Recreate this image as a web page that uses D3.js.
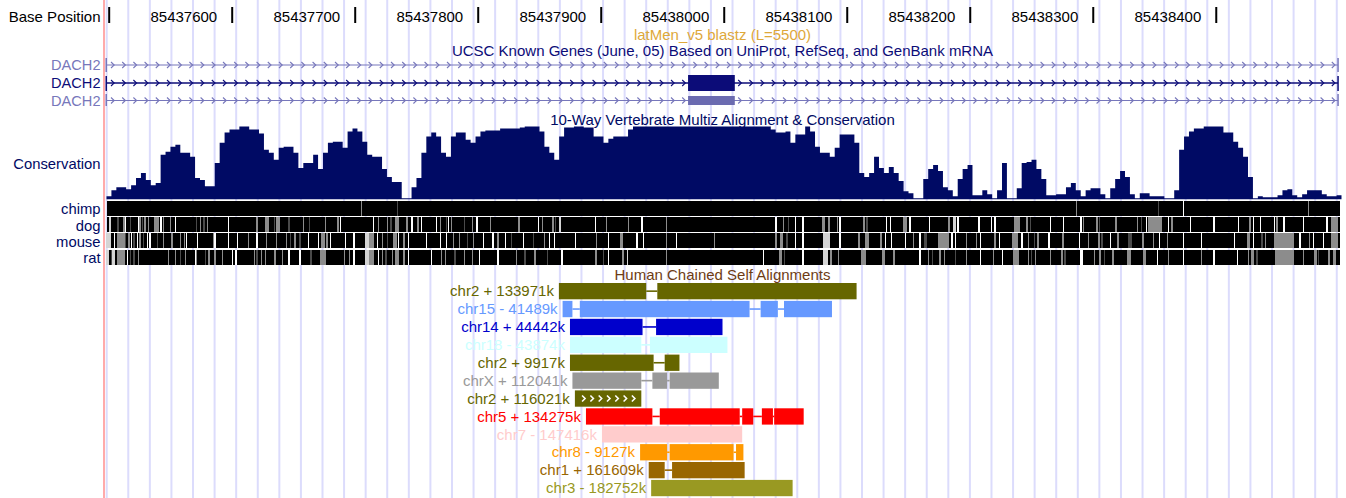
<!DOCTYPE html>
<html><head><meta charset="utf-8">
<script src="https://cdn.jsdelivr.net/npm/d3@7"></script>
<style>
html,body{margin:0;padding:0;background:#fff;overflow:hidden}
svg{display:block;font-family:"Liberation Sans",Arial,Helvetica,sans-serif}
</style></head><body>
<svg id="chart" width="1346" height="498"></svg>
<script>
// ---- Region shown (chr coordinates) ----
const viewStart = 85437497;
const viewEnd = 85438501;

// ---- Base position ruler ----
const tickPositions = [85437500, 85437600, 85437700, 85437800, 85437900, 85438000, 85438100, 85438200, 85438300, 85438400];
const tickLabels = ["", "85437600", "85437700", "85437800", "85437900", "85438000", "85438100", "85438200", "85438300", "85438400"];

// ---- Track titles ----
const trackTitles = [
  "latMen_v5 blastz (L=5500)",
  "UCSC Known Genes (June, 05) Based on UniProt, RefSeq, and GenBank mRNA",
  "10-Way Vertebrate Multiz Alignment & Conservation",
  "Human Chained Self Alignments"
];

// ---- UCSC Known Genes (all three transcripts run through the whole region) ----
const geneNames = ["DACH2", "DACH2", "DACH2"];
const geneExons = [[], [[85437971, 85438009]], [[85437971, 85438009]]];

// ---- Conservation score, one value per 4-base window ----
const consWindow = 4;
const conservation = [
  3,9,12,12,10,14,21,26,19,14,
  16,44,47,52,54,46,46,42,21,19,
  13,13,36,56,66,69,69,72,72,69,
  69,65,49,46,39,51,52,52,46,31,
  36,36,44,30,46,56,57,57,51,67,
  70,67,57,44,42,42,30,22,17,17,
  1,1,12,21,46,62,66,62,46,42,
  62,66,66,59,56,62,67,68,68,68,
  70,70,70,70,71,72,72,72,67,52,
  46,39,62,71,71,72,72,71,71,62,
  62,56,60,62,62,62,69,
  72,72,72,72,72,72,72,72,72,72,72,72,72,72,72,72,72,72,72,72,72,72,72,72,72,72,72,72,
  69,66,66,67,56,
  64,64,72,67,52,46,46,42,51,64,
  64,64,56,26,22,26,42,31,26,32,
  26,18,8,6,1,1,20,30,34,28,
  12,9,3,20,30,34,4,4,9,5,
  1,9,36,1,1,11,36,37,39,30,
  20,4,4,5,5,12,16,9,3,9,
  11,11,5,1,11,20,28,22,5,1,
  6,6,3,3,3,1,1,9,49,62,
  67,70,70,72,72,72,72,66,66,57,
  51,42,22,1,3,2,2,2,4,9,
  10,4,2,5,9,9,9,5,3,3,4
];
const consMax = 72;

// ---- Pairwise alignment rows: [offset from viewStart, length, shade] (shade 0 = unaligned ... 3 = dark) ----
const speciesNames = ["chimp", "dog", "mouse", "rat"];
const chimpStripes = [[208,1,2],[237,1,3],[789,1,2],[856,1,3],[876,1,0],[978,1,2]];
const dogStripes = [
  [3,2,1],[10,1,3],[15,1,2],[16,1,0],[20,1,3],[27,1,0],[28,1,2],[30,1,3],[32,1,2],[35,1,2],[40,4,2],[45,1,0],[47,1,2],[53,1,2],[57,1,0],
  [74,1,3],[77,1,2],[80,1,3],[83,1,2],[100,1,0],[123,1,2],[130,3,2],[137,1,3],[139,3,2],[149,1,3],[161,1,2],[166,1,3],[179,1,2],[189,1,2],
  [191,1,0],[218,1,0],[222,1,2],[229,1,2],[232,1,3],[236,3,2],[245,1,2],[249,1,0],[254,1,2],[257,1,0],[269,1,0],[272,1,2],[277,1,3],
  [279,1,0],[281,1,2],[292,1,3],[298,1,2],[302,1,0],[313,1,2],[336,1,2],[352,1,0],[355,1,2],[363,2,2],[366,1,3],[369,2,1],[398,1,0],
  [407,1,2],[425,1,2],[436,1,0],[456,1,2],[545,1,0],[551,1,2],[555,1,3],[561,1,0],[567,1,0],[583,2,2],[588,1,2],[595,1,2],[597,1,0],
  [616,2,2],[619,1,3],[635,1,0],[638,1,0],[649,3,2],[654,1,0],[670,1,0],[685,2,2],[689,3,1],[693,1,0],[710,1,0],[720,1,0],[723,1,0],
  [739,5,2],[749,1,2],[752,1,3],[768,1,0],[779,1,0],[793,1,0],[795,1,2],[806,1,2],[808,1,3],[821,2,2],[839,1,2],[842,1,3],[846,1,0],
  [848,11,2],[864,1,0],[867,1,2],[882,1,0],[901,1,0],[921,1,0],[930,2,2],[933,1,0],[939,1,0],[950,1,0],[952,2,2],[958,1,0],[974,1,0],
  [993,1,0],[997,5,2]
];
const mouseStripes = [
  [1,4,1],[7,1,0],[10,6,2],[16,1,3],[19,1,2],[21,1,0],[23,1,3],[26,1,0],[28,1,2],[31,1,3],[34,1,0],[36,1,0],[42,1,3],[47,1,2],[54,1,2],
  [61,1,2],[64,1,2],[66,1,0],[75,1,0],[88,1,2],[89,1,0],[100,1,0],[107,1,0],[116,1,2],[123,1,0],[131,1,2],[139,1,2],[147,1,2],[150,1,3],
  [154,1,2],[158,1,3],[165,1,0],[173,1,0],[176,3,2],[180,1,2],[183,1,0],[195,1,0],[202,1,0],[211,4,1],[215,4,2],[221,1,0],[225,1,2],
  [229,1,3],[234,3,2],[238,1,0],[242,2,2],[246,1,0],[261,1,0],[272,1,0],[277,1,0],[283,1,2],[288,1,2],[294,1,3],[299,1,2],[307,1,0],
  [315,1,0],[319,1,2],[325,1,0],[330,1,3],[340,1,0],[348,1,3],[357,1,2],[361,1,0],[365,1,0],[382,1,0],[399,1,2],[409,1,0],[419,2,2],
  [432,1,0],[437,1,0],[456,1,2],[464,1,0],[495,1,2],[545,1,2],[549,2,2],[554,1,3],[561,1,0],[567,1,0],[584,5,1],[597,1,0],[612,2,2],
  [618,3,2],[630,2,2],[634,1,0],[639,1,0],[650,1,0],[657,1,2],[662,1,0],[666,2,3],[677,9,2],[688,1,0],[691,1,0],[700,1,2],[708,1,2],
  [711,1,0],[723,1,2],[727,1,0],[737,5,2],[745,1,0],[750,1,2],[755,1,3],[758,1,2],[767,1,0],[778,2,2],[792,1,0],[799,1,2],[807,2,2],
  [810,1,3],[817,1,0],[823,1,2],[832,3,3],[843,2,2],[852,1,2],[857,1,0],[863,1,2],[876,1,0],[891,1,0],[918,1,0],[928,3,2],[933,1,0],
  [940,1,3],[943,1,2],[950,17,2],[971,1,0],[979,1,2],[982,1,0],[990,1,0],[997,5,2]
];
const ratStripes = [
  [1,2,1],[5,1,3],[6,2,1],[10,6,2],[18,1,0],[20,1,3],[23,1,3],[27,1,2],[51,1,2],[57,1,2],[61,1,3],[65,1,2],[73,1,0],[74,1,2],[81,1,3],
  [84,1,2],[89,1,2],[95,1,2],[103,1,0],[106,1,0],[121,1,2],[123,1,3],[127,1,2],[130,1,2],[137,2,2],[144,1,2],[149,1,0],[158,1,0],
  [167,1,3],[175,5,2],[194,1,2],[198,1,2],[202,1,0],[211,4,1],[215,4,2],[222,1,0],[225,1,2],[228,1,3],[233,1,2],[236,3,2],[242,2,2],
  [246,1,0],[265,1,0],[273,1,2],[276,1,2],[284,1,3],[292,1,2],[298,1,2],[304,1,0],[319,1,0],[334,1,2],[341,1,3],[349,1,2],[359,1,3],
  [371,1,0],[398,2,2],[405,1,3],[409,1,0],[420,2,2],[424,1,1],[456,1,2],[535,1,0],[548,2,2],[552,1,3],[567,1,0],[584,4,1],[589,2,2],
  [596,1,2],[615,4,2],[632,2,2],[641,1,2],[662,1,0],[669,1,2],[672,1,3],[678,2,2],[682,1,2],[691,1,3],[700,1,2],[711,1,0],[722,1,2],
  [729,1,0],[738,5,2],[750,1,2],[753,1,3],[756,1,2],[768,1,2],[777,2,2],[780,1,3],[793,2,0],[804,1,2],[808,2,2],[812,1,3],[819,1,2],
  [831,3,2],[844,2,2],[855,1,0],[864,1,2],[876,1,0],[891,1,2],[901,1,0],[920,1,0],[929,1,2],[932,2,2],[936,1,3],[951,16,2],[974,1,2],
  [983,2,2],[986,1,3],[994,2,2],[998,3,2]
];

// ---- Human chained self alignments ----
const chainChrom = ["chr2", "chr15", "chr14", "chr18", "chr2", "chrX", "chr2", "chr5", "chr7", "chr8", "chr1", "chr3"];
const chainStrand = ["+", "-", "+", "-", "+", "+", "+", "+", "-", "-", "+", "-"];
const chainPosK = [133971, 41489, 44442, 43874, 9917, 112041, 116021, 134275, 147416, 9127, 161609, 182752];
const chainBlocks = [
  [[85437866, 85437937], [85437946, 85438108]],
  [[85437869, 85437877], [85437883, 85438021], [85438030, 85438044], [85438049, 85438088]],
  [[85437875, 85437934], [85437945, 85437999]],
  [[85437875, 85437933], [85437940, 85438003]],
  [[85437875, 85437943], [85437952, 85437964]],
  [[85437877, 85437933], [85437942, 85437954], [85437956, 85437996]],
  [[85437879, 85437933]],
  [[85437888, 85437942], [85437948, 85438013], [85438015, 85438024], [85438031, 85438040], [85438041, 85438065]],
  [[85437901, 85438015]],
  [[85437932, 85437954], [85437956, 85438008], [85438010, 85438016]],
  [[85437939, 85437952], [85437958, 85438017]],
  [[85437941, 85438056]]
];

// ---------------- drawing ----------------
const W = 1346, H = 498;
const FONT = "'Liberation Sans', Arial, Helvetica, sans-serif";
const chromColor = {
  chr1: "#996600", chr2: "#666600", chr3: "#999922", chr5: "#ff0000", chr7: "#ffcccc",
  chr8: "#ff9900", chr14: "#0000cc", chr15: "#6699ff", chr18: "#ccffff", chrX: "#999999"
};
const shadeColor = ["#ffffff", "#d4d4d4", "#8c8c8c", "#4a4a4a"];
const navy = "#000a64";
const geneLight = "#7777bb", geneDark = "#0c0c78";

const svg = d3.select("#chart");
const x = d3.scaleLinear().domain([viewStart, viewEnd]).range([105, 1340]);
const labelRight = 100.5;
const center = (x.range()[0] + x.range()[1]) / 2;

// light vertical guidelines behind everything
const guideStep = 21.58;
svg.append("g").selectAll("line").data(d3.range(106.7, 1341, guideStep)).join("line")
  .attr("x1", d => d).attr("x2", d => d).attr("y1", 0).attr("y2", H)
  .attr("stroke", "#dcdcfc").attr("stroke-width", 2);

// left edge marker
svg.append("rect").attr("x", 103).attr("y", 0).attr("width", 2).attr("height", H).attr("fill", "#ffaaaa");

// ---- ruler ----
svg.append("text").attr("x", labelRight).attr("y", 21.7).attr("text-anchor", "end")
  .attr("font-size", 15).attr("fill", "#000").text("Base Position");

const axisG = svg.append("g").attr("transform", "translate(0,23)")
  .call(d3.axisTop(x).tickValues(tickPositions).tickSize(16).tickPadding(0)
    .tickFormat((d, i) => tickLabels[i]));
axisG.attr("font-family", FONT).attr("font-size", 15);
axisG.select(".domain").remove();
axisG.selectAll(".tick line").attr("stroke", "#000").attr("stroke-width", 2);
axisG.selectAll(".tick text").attr("text-anchor", "end").attr("x", -15).attr("y", -1.3)
  .attr("dy", null).attr("fill", "#000");

// ---- titles ----
const titleY = [40, 55.7, 125, 279.5];
const titleColor = ["#dea83a", geneDark, navy, "#6e3c14"];
svg.append("g").selectAll("text").data(trackTitles).join("text")
  .attr("x", center).attr("y", (d, i) => titleY[i]).attr("text-anchor", "middle")
  .attr("font-size", 15).attr("fill", (d, i) => titleColor[i]).text(d => d);

// ---- genes ----
const geneRowY = [65, 83, 100.5];
const geneColor = [geneLight, geneDark, geneLight];
const exonH = [16, 16, 9];
const endBar = [[58, 72], [76, 91], [94, 106]];
geneNames.forEach((name, r) => {
  const g = svg.append("g");
  const cy = geneRowY[r], col = geneColor[r];
  g.append("text").attr("x", labelRight).attr("y", cy + 5).attr("text-anchor", "end")
    .attr("font-size", 14.6).attr("fill", col).text(name);
  g.append("line").attr("x1", x(viewStart) + 1).attr("x2", x(viewEnd) - 2)
    .attr("y1", cy).attr("y2", cy).attr("stroke", col).attr("stroke-width", r === 1 ? 1.4 : 1.2);
  // strand chevrons along the intron line
  const chev = d3.range(113, x(viewEnd) - 3, 11.2);
  g.selectAll("path.chev").data(chev).join("path").attr("class", "chev")
    .attr("d", d => `M${d - 2},${cy - 3}L${d + 1.2},${cy}L${d - 2},${cy + 3}`)
    .attr("fill", "none").attr("stroke", col).attr("stroke-width", 1.1);
  [x(viewStart) + 1.2, x(viewEnd) - 2].forEach(px => {
    g.append("rect").attr("x", px - 0.7).attr("y", endBar[r][0]).attr("width", 1.5)
      .attr("height", endBar[r][1] - endBar[r][0]).attr("fill", col);
  });
  g.selectAll("rect.exon").data(geneExons[r]).join("rect").attr("class", "exon")
    .attr("x", d => x(d[0])).attr("width", d => x(d[1]) - x(d[0]))
    .attr("y", cy - exonH[r] / 2).attr("height", exonH[r])
    .attr("fill", r === 2 ? "#6b6bb0" : col);
});

// ---- conservation ----
const consBase = 199.3;
const y = d3.scaleLinear().domain([0, consMax]).range([consBase, 126.5]);
const consPts = conservation.map((v, i) => ({ s: viewStart + i * consWindow, v }));
consPts.push({ s: viewEnd, v: conservation[conservation.length - 1] });
svg.append("path").datum(consPts)
  .attr("d", d3.area().curve(d3.curveStepAfter).x(d => x(d.s) + 1.5).y0(consBase).y1(d => y(d.v)))
  .attr("fill", navy);
svg.append("text").attr("x", labelRight).attr("y", 169).attr("text-anchor", "end")
  .attr("font-size", 14.8).attr("fill", navy).text("Conservation");

// ---- species alignment rows ----
const speciesStripes = [chimpStripes, dogStripes, mouseStripes, ratStripes];
const speciesTop = [201, 217, 233, 249.5];
const speciesLabelY = [214, 230.7, 247, 263.3];
const rowH = 15.3;
speciesNames.forEach((name, r) => {
  const g = svg.append("g").attr("shape-rendering", "crispEdges");
  g.append("rect").attr("x", 106.5).attr("y", speciesTop[r]).attr("width", x(viewEnd) - 106.5)
    .attr("height", rowH).attr("fill", "#000");
  g.selectAll("rect.s").data(speciesStripes[r]).join("rect").attr("class", "s")
    .attr("x", d => x(viewStart + d[0]))
    .attr("width", d => Math.max(1, x(viewStart + d[0] + d[1]) - x(viewStart + d[0])))
    .attr("y", speciesTop[r]).attr("height", rowH)
    .attr("fill", d => shadeColor[d[2]]);
  svg.append("text").attr("x", labelRight).attr("y", speciesLabelY[r]).attr("text-anchor", "end")
    .attr("font-size", 14.8).attr("fill", navy).text(name);
});

// ---- chained self alignments ----
const chainTop = 283, chainPitch = 17.9, chainH = 16.3;
const chainStrandArrows = chainChrom.map((c, i) => i === 6);
chainChrom.forEach((chrom, i) => {
  const g = svg.append("g");
  const col = chromColor[chrom];
  const top = chainTop + i * chainPitch, cy = top + chainH / 2;
  const blocks = chainBlocks[i];
  for (let k = 1; k < blocks.length; k++) {
    g.append("line").attr("x1", x(blocks[k - 1][1])).attr("x2", x(blocks[k][0]))
      .attr("y1", cy).attr("y2", cy).attr("stroke", col).attr("stroke-width", 1.6);
  }
  g.selectAll("rect").data(blocks).join("rect")
    .attr("x", d => x(d[0])).attr("width", d => x(d[1]) - x(d[0]))
    .attr("y", top).attr("height", chainH).attr("fill", col);
  if (chainStrandArrows[i]) {
    const b = blocks[0];
    const marks = d3.range(x(b[0]) + 9, x(b[1]) - 5, 8.3);
    g.selectAll("path").data(marks).join("path")
      .attr("d", d => `M${d - 1.8},${cy - 3}L${d + 1.2},${cy}L${d - 1.8},${cy + 3}`)
      .attr("fill", "none").attr("stroke", "#fff").attr("stroke-width", 1.6);
  }
  g.append("text").attr("x", x(blocks[0][0]) - 5).attr("y", cy + 5.2).attr("text-anchor", "end")
    .attr("font-size", 15).attr("fill", col)
    .text(`${chrom} ${chainStrand[i]} ${chainPosK[i]}k`);
});
</script>
</body></html>
